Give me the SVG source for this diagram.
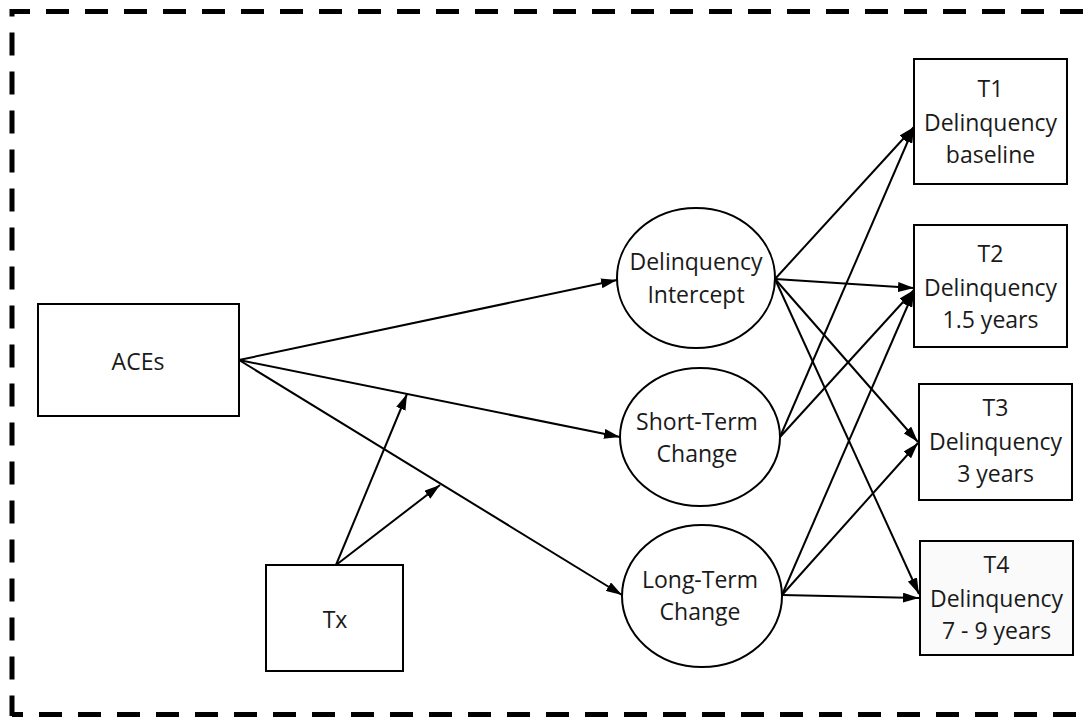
<svg xmlns="http://www.w3.org/2000/svg" width="1091" height="717" viewBox="0 0 1091 717">
  <style>
    .box { fill: #ffffff; stroke: #000000; stroke-width: 2; }
    .lat { fill: #ffffff; stroke: #000000; stroke-width: 2; }
    .lbl { font-family: "Open Sans", "Noto Sans", sans-serif; font-size: 23px; fill: #1a1a1a; text-anchor: middle; }
    .edge { fill: none; stroke: #000000; stroke-width: 2; marker-end: url(#arrow); }
    .frame { fill: none; stroke: #000000; stroke-width: 5; stroke-dasharray: 23 16; }
  </style>
  <defs>
    <marker id="arrow" viewBox="0 0 16 10" refX="16" refY="5" markerWidth="16" markerHeight="10" markerUnits="userSpaceOnUse" orient="auto">
      <path d="M0,0 L16,5 L0,10 Z" fill="#000000"/>
    </marker>
  </defs>

  <rect width="1091" height="717" fill="#ffffff"/>

  <!-- dashed outer frame -->
  <g id="frame">
    <path class="frame" d="M12,716 V11.5 H1100" stroke-dashoffset="2.5"/>
    <path class="frame" d="M12,714.5 H1100" stroke-dashoffset="12"/>
  </g>

  <!-- connectors -->
  <g id="connectors">
    <line class="edge" x1="239" y1="360" x2="617" y2="280"/>
    <line class="edge" x1="239" y1="360" x2="620" y2="437"/>
    <line class="edge" x1="239" y1="360" x2="622" y2="595"/>
    <line class="edge" x1="336" y1="565" x2="407" y2="394"/>
    <line class="edge" x1="336" y1="565" x2="440" y2="485"/>

    <line class="edge" x1="775" y1="279" x2="914" y2="127"/>
    <line class="edge" x1="775" y1="279" x2="914" y2="288"/>
    <line class="edge" x1="775" y1="279" x2="918" y2="442"/>
    <line class="edge" x1="775" y1="279" x2="919" y2="594"/>

    <line class="edge" x1="780" y1="437" x2="914" y2="127"/>
    <line class="edge" x1="780" y1="437" x2="914" y2="290"/>

    <line class="edge" x1="782" y1="595" x2="914" y2="291"/>
    <line class="edge" x1="782" y1="595" x2="918" y2="443"/>
    <line class="edge" x1="782" y1="595" x2="919" y2="598"/>
  </g>

  <g id="aces">
    <rect class="box" x="38" y="304" width="201" height="112"/>
    <text class="lbl" x="138" y="370">ACEs</text>
  </g>

  <g id="tx">
    <rect class="box" x="266" y="565" width="137" height="106"/>
    <text class="lbl" x="335" y="628">Tx</text>
  </g>

  <g id="intercept">
    <ellipse class="lat" cx="696" cy="278" rx="79" ry="70"/>
    <text class="lbl" x="696" y="270">Delinquency</text>
    <text class="lbl" x="696" y="303">Intercept</text>
  </g>

  <g id="short-term">
    <ellipse class="lat" cx="700" cy="437" rx="80" ry="69"/>
    <text class="lbl" x="697" y="430">Short-Term</text>
    <text class="lbl" x="697" y="462">Change</text>
  </g>

  <g id="long-term">
    <ellipse class="lat" cx="702" cy="596" rx="80" ry="71"/>
    <text class="lbl" x="700" y="588">Long-Term</text>
    <text class="lbl" x="700" y="620">Change</text>
  </g>

  <g id="t1">
    <rect class="box" x="914" y="59" width="153" height="125"/>
    <text class="lbl" x="990.5" y="97">T1</text>
    <text class="lbl" x="990.5" y="131">Delinquency</text>
    <text class="lbl" x="990.5" y="163">baseline</text>
  </g>

  <g id="t2">
    <rect class="box" x="914" y="225" width="153" height="122"/>
    <text class="lbl" x="990.5" y="262">T2</text>
    <text class="lbl" x="990.5" y="296">Delinquency</text>
    <text class="lbl" x="990.5" y="328">1.5 years</text>
  </g>

  <g id="t3">
    <rect class="box" x="919" y="384" width="153" height="116"/>
    <text class="lbl" x="995.5" y="416">T3</text>
    <text class="lbl" x="995.5" y="450">Delinquency</text>
    <text class="lbl" x="995.5" y="482">3 years</text>
  </g>

  <g id="t4">
    <rect class="box" x="920" y="541" width="153" height="114" style="fill:#fafafa"/>
    <text class="lbl" x="996.5" y="573">T4</text>
    <text class="lbl" x="996.5" y="607">Delinquency</text>
    <text class="lbl" x="996.5" y="639">7 - 9 years</text>
  </g>
</svg>
